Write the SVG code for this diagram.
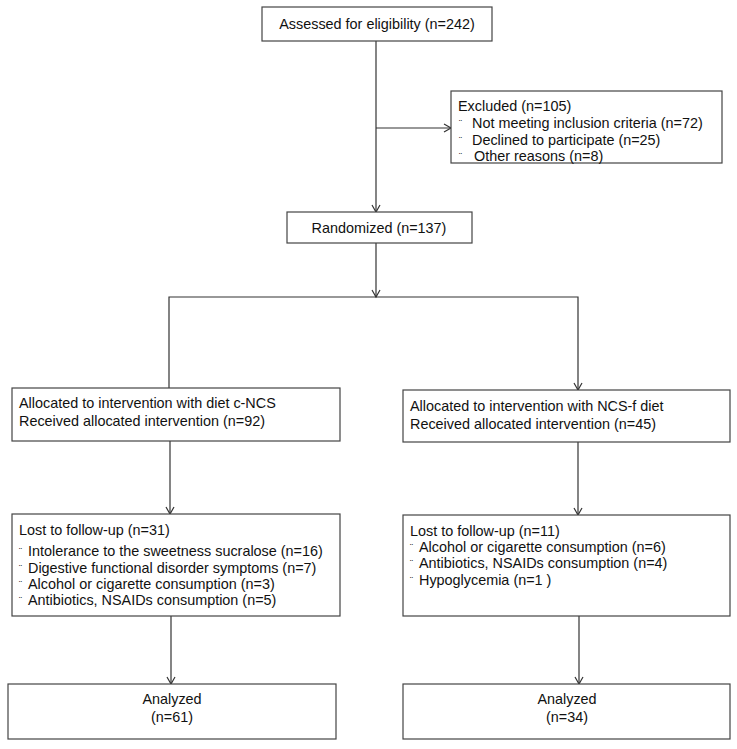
<svg xmlns="http://www.w3.org/2000/svg" width="737" height="749" viewBox="0 0 737 749">
<style>
.box{fill:#fff;stroke:#444;stroke-width:1.2}
.ln{fill:none;stroke:#333;stroke-width:1.2}
text{font-family:"Liberation Sans",Arial,sans-serif;font-size:14.4px;fill:#111}
.c{text-anchor:middle}
.b{font-size:9px}
</style>
<defs>
<marker id="ar" markerWidth="10" markerHeight="10" refX="8" refY="5" orient="auto" markerUnits="userSpaceOnUse">
<path d="M1,1 L8,5 L1,9" fill="none" stroke="#333" stroke-width="1.2"/>
</marker>
</defs>
<rect width="737" height="749" fill="#fff"/>
<g id="connectors">
<line class="ln" x1="376" y1="41" x2="376" y2="212" marker-end="url(#ar)"/>
<line class="ln" x1="376" y1="128" x2="451" y2="128" marker-end="url(#ar)"/>
<line class="ln" x1="376" y1="243" x2="376" y2="297" marker-end="url(#ar)"/>
<polyline class="ln" points="169,388 169,297 578,297 578,390" marker-end="url(#ar)"/>
<line class="ln" x1="170" y1="441" x2="170" y2="514" marker-end="url(#ar)"/>
<line class="ln" x1="578" y1="442" x2="578" y2="515" marker-end="url(#ar)"/>
<line class="ln" x1="171" y1="616" x2="171" y2="684" marker-end="url(#ar)"/>
<line class="ln" x1="579" y1="616" x2="579" y2="684" marker-end="url(#ar)"/>
</g>
<g id="assessed">
<rect class="box" x="262" y="7" width="230" height="34"/>
<text class="c" x="377" y="29">Assessed for eligibility (n=242)</text>
</g>
<g id="excluded">
<rect class="box" x="451" y="91" width="271" height="72"/>
<text x="458" y="111">Excluded  (n=105)</text>
<text class="b" x="459" y="126">¨</text><text x="472" y="128">Not meeting inclusion criteria (n=72)</text>
<text class="b" x="459" y="143">¨</text><text x="472" y="145">Declined to participate (n=25)</text>
<text class="b" x="459" y="159">¨</text><text x="474" y="161">Other reasons (n=8)</text>
</g>
<g id="randomized">
<rect class="box" x="287" y="212" width="185" height="31"/>
<text class="c" x="379" y="233">Randomized (n=137)</text>
</g>
<g id="alloc-left">
<rect class="box" x="12" y="388" width="328" height="53"/>
<text x="19" y="408">Allocated to intervention with diet c-NCS</text>
<text x="19" y="426">Received allocated intervention (n=92)</text>
</g>
<g id="alloc-right">
<rect class="box" x="403" y="390" width="327" height="52"/>
<text x="410" y="411">Allocated to intervention with NCS-f diet</text>
<text x="410" y="429">Received allocated intervention (n=45)</text>
</g>
<g id="lost-left">
<rect class="box" x="12" y="514" width="328" height="102"/>
<text x="19" y="535">Lost to follow-up (n=31)</text>
<text class="b" x="19" y="554">¨</text><text x="28" y="556">Intolerance to the sweetness sucralose (n=16)</text>
<text class="b" x="19" y="571">¨</text><text x="28" y="573">Digestive functional disorder symptoms (n=7)</text>
<text class="b" x="19" y="587">¨</text><text x="28" y="589">Alcohol or cigarette consumption (n=3)</text>
<text class="b" x="19" y="603">¨</text><text x="28" y="605">Antibiotics, NSAIDs consumption (n=5)</text>
</g>
<g id="lost-right">
<rect class="box" x="403" y="515" width="327" height="101"/>
<text x="410" y="536">Lost to follow-up (n=11)</text>
<text class="b" x="410" y="550">¨</text><text x="419" y="552">Alcohol or cigarette consumption (n=6)</text>
<text class="b" x="410" y="566">¨</text><text x="419" y="568">Antibiotics, NSAIDs consumption (n=4)</text>
<text class="b" x="410" y="583">¨</text><text x="419" y="585">Hypoglycemia (n=1 )</text>
</g>
<g id="analyzed-left">
<rect class="box" x="8" y="684" width="328" height="55"/>
<text class="c" x="172" y="704">Analyzed</text>
<text class="c" x="172" y="722">(n=61)</text>
</g>
<g id="analyzed-right">
<rect class="box" x="403" y="684" width="327" height="55"/>
<text class="c" x="567" y="704">Analyzed</text>
<text class="c" x="567" y="722">(n=34)</text>
</g>
</svg>
